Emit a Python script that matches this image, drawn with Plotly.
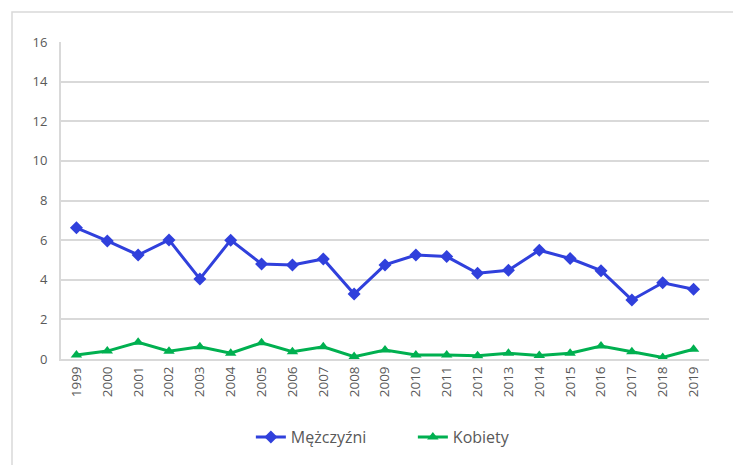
import plotly.graph_objects as go

years = [str(y) for y in range(1999, 2020)]
men = [6.62, 5.96, 5.25, 6.01, 4.04, 6.0, 4.8, 4.75, 5.05, 3.28, 4.75,
       5.25, 5.17, 4.33, 4.48, 5.49, 5.07, 4.46, 2.98, 3.85, 3.52]
women = [0.2, 0.4, 0.84, 0.39, 0.62, 0.29, 0.82, 0.37, 0.62, 0.12, 0.45,
         0.2, 0.2, 0.17, 0.29, 0.18, 0.29, 0.66, 0.37, 0.08, 0.49]
y_ticks = [0, 2, 4, 6, 8, 10, 12, 14, 16]

# page body has an 8px margin; figure sized to fit the window
OFF = 8
W, H = 741 - OFF, 465 - OFF
L, T = 61 - OFF, 42 - OFF
R = W - (709 - OFF)
B = H - (359 - OFF)
pw, ph = W - L - R, H - T - B

fig = go.Figure()
fig.add_trace(go.Scatter(x=years, y=men, name="Mężczyźni", mode="lines+markers",
                         line=dict(color="#3040DC", width=3),
                         marker=dict(symbol="diamond", size=10, color="#3040DC")))
fig.add_trace(go.Scatter(x=years, y=women, name="Kobiety", mode="lines+markers",
                         line=dict(color="#00B050", width=3),
                         marker=dict(symbol="triangle-up", size=10, color="#00B050")))

fam = "Open Sans, Liberation Sans, sans-serif"
font = dict(family=fam, size=13, color="#595959")

fig.update_layout(
    width=W, height=H,
    margin=dict(l=L, r=R, t=T, b=B, autoexpand=False),
    paper_bgcolor="white", plot_bgcolor="white",
    font=font,
    showlegend=True,
    legend=dict(orientation="h", x=0.543, xanchor="center",
                y=((H - B) - (437 - OFF)) / ph, yanchor="middle",
                font=dict(family=fam, size=16, color="#595959"),
                entrywidth=117, entrywidthmode="pixels"),
    xaxis=dict(type="category", tickangle=-90, showgrid=False, showline=True,
               range=[-0.5, 20.5], automargin=False,
               linecolor="#D9D9D9", linewidth=2, ticks="", tickfont=dict(size=13.5),
               fixedrange=True),
    yaxis=dict(range=[0, 16], tickvals=y_ticks, showgrid=True, gridcolor="#D9D9D9",
               gridwidth=2, showline=True, linecolor="#D9D9D9", linewidth=2,
               automargin=False,
               zeroline=False, ticks="", ticklabelstandoff=9, tickfont=dict(size=13)),
    shapes=[dict(type="rect", xref="paper", yref="paper",
                 x0=(12 - 61) / pw, x1=(737.5 - 61) / pw,
                 y0=(359 - 480) / ph, y1=(359 - 12) / ph,
                 line=dict(color="#D9D9D9", width=1.5), layer="above")],
)

fig.write_html("out.html")
